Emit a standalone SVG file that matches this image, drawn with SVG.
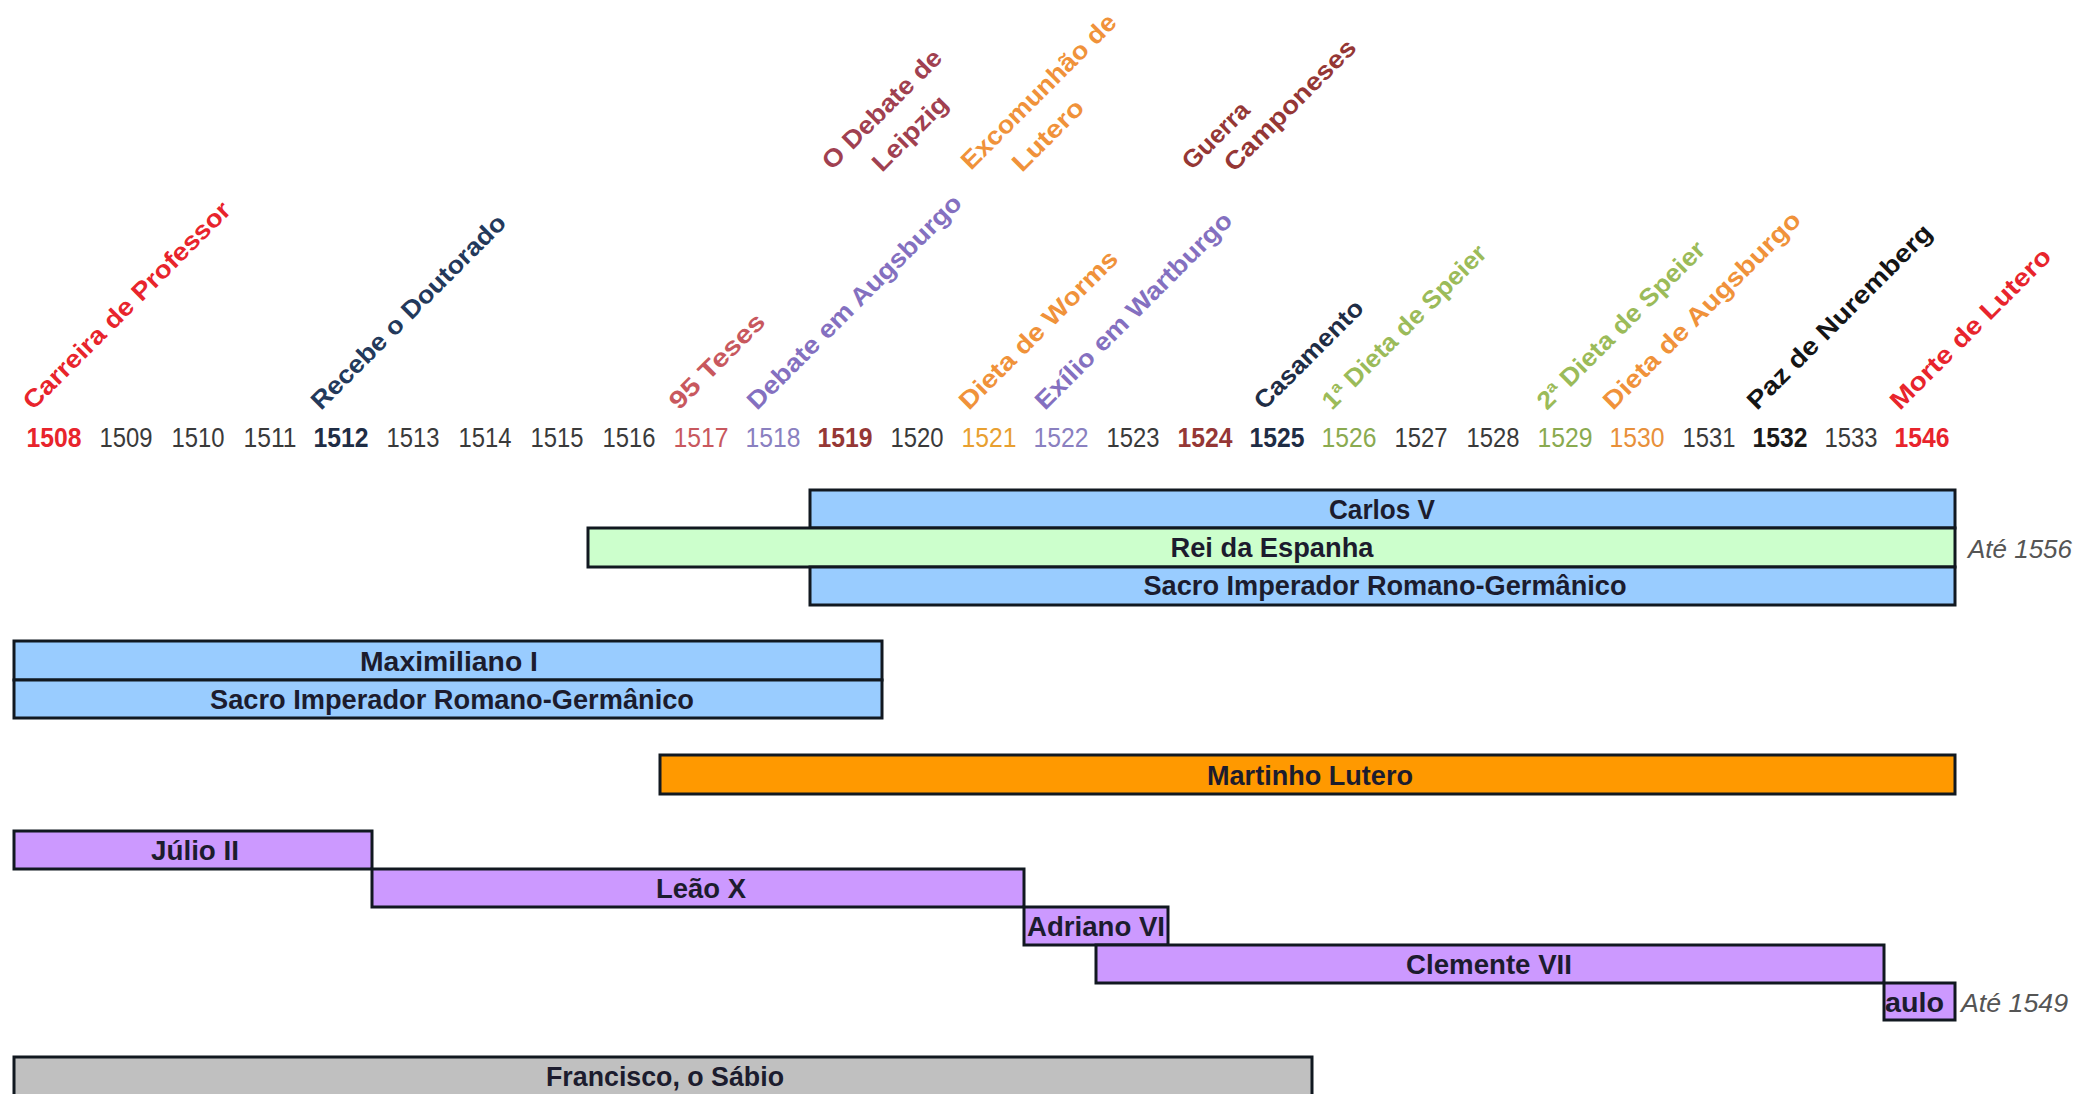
<svg xmlns="http://www.w3.org/2000/svg" width="2075" height="1094" viewBox="0 0 2075 1094">
<style>
.yr{font-family:"Liberation Sans",Arial,sans-serif;font-size:28px;text-anchor:middle;fill:#3a3a3a}
.yb{font-weight:bold}
.ev{font-family:"Liberation Sans",Arial,sans-serif;font-size:25px;font-weight:bold}
.bar{stroke:#111820;stroke-width:3}
.bl{font-family:"Liberation Sans",Arial,sans-serif;font-size:27px;font-weight:bold;fill:#1c1c2e;text-anchor:middle}
.note{font-family:"Liberation Sans",Arial,sans-serif;font-size:25px;font-style:italic;fill:#555}
.blue{fill:#99ccff}.green{fill:#ccffcc}.orange{fill:#ff9900}.purple{fill:#cc99ff}.gray{fill:#c0c0c0}
</style>
<rect width="2075" height="1094" fill="#ffffff"/>
<g id="connectors"/>
<g id="years">
<text class="yr yb" x="54" y="447" style="fill:#e8242c" textLength="55" lengthAdjust="spacingAndGlyphs">1508</text>
<text class="yr" x="126" y="447" textLength="53" lengthAdjust="spacingAndGlyphs">1509</text>
<text class="yr" x="198" y="447" textLength="53" lengthAdjust="spacingAndGlyphs">1510</text>
<text class="yr" x="270" y="447" textLength="53" lengthAdjust="spacingAndGlyphs">1511</text>
<text class="yr yb" x="341" y="447" style="fill:#1f2d45" textLength="55" lengthAdjust="spacingAndGlyphs">1512</text>
<text class="yr" x="413" y="447" textLength="53" lengthAdjust="spacingAndGlyphs">1513</text>
<text class="yr" x="485" y="447" textLength="53" lengthAdjust="spacingAndGlyphs">1514</text>
<text class="yr" x="557" y="447" textLength="53" lengthAdjust="spacingAndGlyphs">1515</text>
<text class="yr" x="629" y="447" textLength="53" lengthAdjust="spacingAndGlyphs">1516</text>
<text class="yr" x="701" y="447" style="fill:#c8585e" textLength="55" lengthAdjust="spacingAndGlyphs">1517</text>
<text class="yr" x="773" y="447" style="fill:#8a80c0" textLength="55" lengthAdjust="spacingAndGlyphs">1518</text>
<text class="yr yb" x="845" y="447" style="fill:#953735" textLength="55" lengthAdjust="spacingAndGlyphs">1519</text>
<text class="yr" x="917" y="447" textLength="53" lengthAdjust="spacingAndGlyphs">1520</text>
<text class="yr" x="989" y="447" style="fill:#e8a030" textLength="55" lengthAdjust="spacingAndGlyphs">1521</text>
<text class="yr" x="1061" y="447" style="fill:#8a80c0" textLength="55" lengthAdjust="spacingAndGlyphs">1522</text>
<text class="yr" x="1133" y="447" textLength="53" lengthAdjust="spacingAndGlyphs">1523</text>
<text class="yr yb" x="1205" y="447" style="fill:#953735" textLength="55" lengthAdjust="spacingAndGlyphs">1524</text>
<text class="yr yb" x="1277" y="447" style="fill:#1f2d45" textLength="55" lengthAdjust="spacingAndGlyphs">1525</text>
<text class="yr" x="1349" y="447" style="fill:#8aaa50" textLength="55" lengthAdjust="spacingAndGlyphs">1526</text>
<text class="yr" x="1421" y="447" textLength="53" lengthAdjust="spacingAndGlyphs">1527</text>
<text class="yr" x="1493" y="447" textLength="53" lengthAdjust="spacingAndGlyphs">1528</text>
<text class="yr" x="1565" y="447" style="fill:#8aaa50" textLength="55" lengthAdjust="spacingAndGlyphs">1529</text>
<text class="yr" x="1637" y="447" style="fill:#e8903a" textLength="55" lengthAdjust="spacingAndGlyphs">1530</text>
<text class="yr" x="1709" y="447" textLength="53" lengthAdjust="spacingAndGlyphs">1531</text>
<text class="yr yb" x="1780" y="447" style="fill:#1a1a1a" textLength="55" lengthAdjust="spacingAndGlyphs">1532</text>
<text class="yr" x="1851" y="447" textLength="53" lengthAdjust="spacingAndGlyphs">1533</text>
<text class="yr yb" x="1922" y="447" style="fill:#e8242c" textLength="55" lengthAdjust="spacingAndGlyphs">1546</text>
</g>
<g id="ev-carreira"><text class="ev" fill="#e8242c" transform="translate(33,411) rotate(-45)" textLength="282" lengthAdjust="spacingAndGlyphs">Carreira de Professor</text></g>
<g id="ev-doutorado"><text class="ev" fill="#23395b" transform="translate(321,411) rotate(-45)" textLength="264" lengthAdjust="spacingAndGlyphs">Recebe o Doutorado</text></g>
<g id="ev-95teses"><text class="ev" fill="#c8585e" transform="translate(679,411) rotate(-45)" textLength="124" lengthAdjust="spacingAndGlyphs">95 Teses</text></g>
<g id="ev-debate-augsburgo"><text class="ev" fill="#8470c0" transform="translate(757,411) rotate(-45)" textLength="292" lengthAdjust="spacingAndGlyphs">Debate em Augsburgo</text></g>
<g id="ev-leipzig">
<text class="ev" fill="#a04050" transform="translate(832,171) rotate(-45)" textLength="158" lengthAdjust="spacingAndGlyphs">O Debate de</text>
<text class="ev" fill="#a04050" transform="translate(882,173) rotate(-45)" textLength="96" lengthAdjust="spacingAndGlyphs">Leipzig</text>
</g>
<g id="ev-excomunhao">
<text class="ev" fill="#f0923a" transform="translate(971,171) rotate(-45)" textLength="208" lengthAdjust="spacingAndGlyphs">Excomunhão de</text>
<text class="ev" fill="#f0923a" transform="translate(1022,173) rotate(-45)" textLength="90" lengthAdjust="spacingAndGlyphs">Lutero</text>
</g>
<g id="ev-worms"><text class="ev" fill="#f0923a" transform="translate(969,411) rotate(-45)" textLength="213" lengthAdjust="spacingAndGlyphs">Dieta de Worms</text></g>
<g id="ev-wartburgo"><text class="ev" fill="#8470c0" transform="translate(1045,411) rotate(-45)" textLength="267" lengthAdjust="spacingAndGlyphs">Exílio em Wartburgo</text></g>
<g id="ev-guerra">
<text class="ev" fill="#953735" transform="translate(1192,171) rotate(-45)" textLength="84" lengthAdjust="spacingAndGlyphs">Guerra</text>
<text class="ev" fill="#953735" transform="translate(1234,173) rotate(-45)" textLength="175" lengthAdjust="spacingAndGlyphs">Camponeses</text>
</g>
<g id="ev-casamento"><text class="ev" fill="#1f2d45" transform="translate(1264,411) rotate(-45)" textLength="143" lengthAdjust="spacingAndGlyphs">Casamento</text></g>
<g id="ev-speier1"><text class="ev" fill="#9bbb59" transform="translate(1332,411) rotate(-45)" textLength="221" lengthAdjust="spacingAndGlyphs">1ª Dieta de Speier</text></g>
<g id="ev-speier2"><text class="ev" fill="#9bbb59" transform="translate(1547,411) rotate(-45)" textLength="226" lengthAdjust="spacingAndGlyphs">2ª Dieta de Speier</text></g>
<g id="ev-dieta-augsburgo"><text class="ev" fill="#f0923a" transform="translate(1613,411) rotate(-45)" textLength="268" lengthAdjust="spacingAndGlyphs">Dieta de Augsburgo</text></g>
<g id="ev-nuremberg"><text class="ev" fill="#151515" transform="translate(1757,411) rotate(-45)" textLength="250" lengthAdjust="spacingAndGlyphs">Paz de Nuremberg</text></g>
<g id="ev-morte"><text class="ev" fill="#e8242c" transform="translate(1900,411) rotate(-45)" textLength="216" lengthAdjust="spacingAndGlyphs">Morte de Lutero</text></g>

<g id="carlos-v"><rect class="bar blue" x="810" y="490" width="1145" height="38"/><text class="bl" x="1382" y="519" textLength="106" lengthAdjust="spacingAndGlyphs">Carlos V</text></g>
<g id="rei-espanha"><rect class="bar green" x="588" y="528" width="1367" height="39"/><text class="bl" x="1272" y="557" textLength="203" lengthAdjust="spacingAndGlyphs">Rei da Espanha</text></g>
<g id="carlos-imperador"><rect class="bar blue" x="810" y="567" width="1145" height="38"/><text class="bl" x="1385" y="595" textLength="483" lengthAdjust="spacingAndGlyphs">Sacro Imperador Romano-Germânico</text></g>
<g id="ate-1556"><text class="note" x="1968" y="558" textLength="104" lengthAdjust="spacingAndGlyphs">Até 1556</text></g>
<g id="maximiliano"><rect class="bar blue" x="14" y="641" width="868" height="39"/><text class="bl" x="449" y="671" textLength="178" lengthAdjust="spacingAndGlyphs">Maximiliano I</text></g>
<g id="max-imperador"><rect class="bar blue" x="14" y="680" width="868" height="38"/><text class="bl" x="452" y="709" textLength="484" lengthAdjust="spacingAndGlyphs">Sacro Imperador Romano-Germânico</text></g>
<g id="lutero"><rect class="bar orange" x="660" y="755" width="1295" height="39"/><text class="bl" x="1310" y="785" textLength="206" lengthAdjust="spacingAndGlyphs">Martinho Lutero</text></g>
<g id="julio-ii"><rect class="bar purple" x="14" y="831" width="358" height="38"/><text class="bl" x="195" y="860" textLength="88" lengthAdjust="spacingAndGlyphs">Júlio II</text></g>
<g id="leao-x"><rect class="bar purple" x="372" y="869" width="652" height="38"/><text class="bl" x="701" y="898" textLength="90" lengthAdjust="spacingAndGlyphs">Leão X</text></g>
<g id="adriano-vi"><rect class="bar purple" x="1024" y="907" width="144" height="38"/><text class="bl" x="1096" y="936" textLength="138" lengthAdjust="spacingAndGlyphs">Adriano VI</text></g>
<g id="clemente-vii"><rect class="bar purple" x="1096" y="945" width="788" height="38"/><text class="bl" x="1489" y="974" textLength="166" lengthAdjust="spacingAndGlyphs">Clemente VII</text></g>
<g id="paulo"><rect class="bar purple" x="1884" y="983" width="71" height="37"/><text class="bl" x="1885" y="1012" style="text-anchor:start" textLength="59" lengthAdjust="spacingAndGlyphs">aulo</text></g>
<g id="ate-1549"><text class="note" x="1961" y="1012" textLength="107" lengthAdjust="spacingAndGlyphs">Até 1549</text></g>
<g id="francisco"><rect class="bar gray" x="14" y="1057" width="1298" height="50"/><text class="bl" x="665" y="1086" textLength="238" lengthAdjust="spacingAndGlyphs">Francisco, o Sábio</text></g>
</svg>
